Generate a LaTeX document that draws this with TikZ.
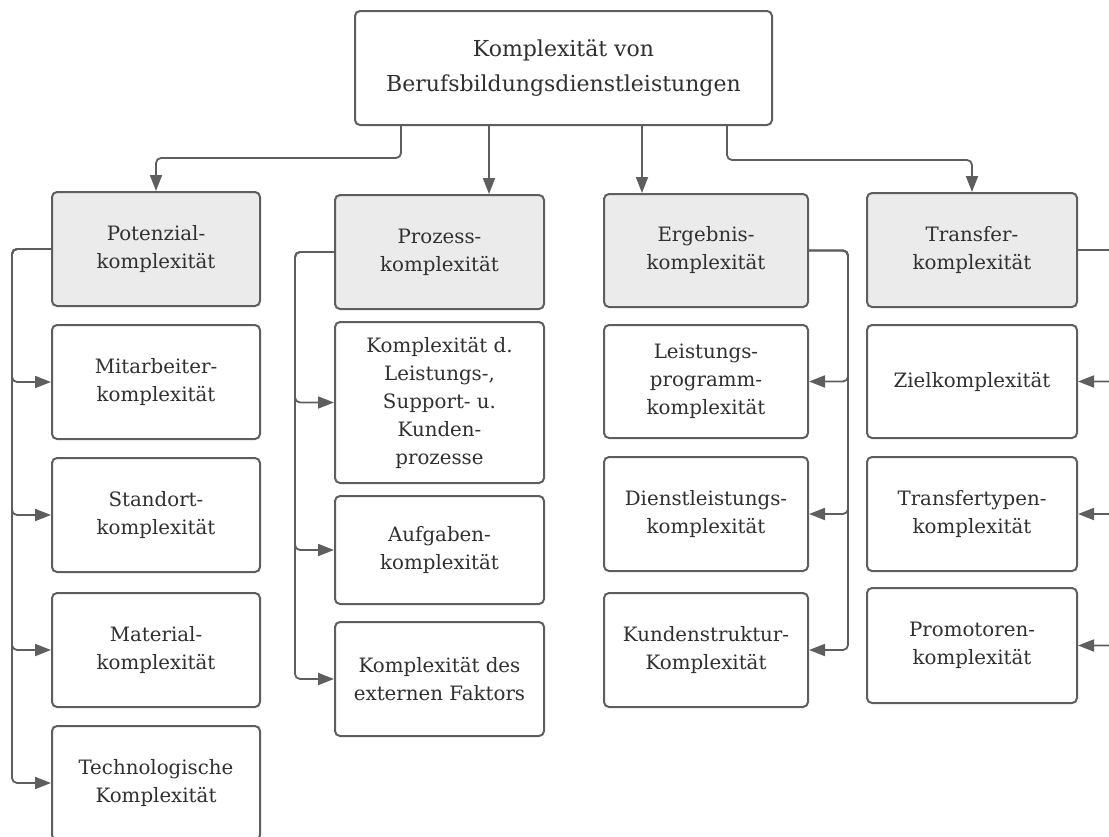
\documentclass[tikz,border=0pt]{standalone}
\usepackage{fontspec}
\setmainfont{DejaVu Serif}
\usetikzlibrary{arrows.meta,calc}
\definecolor{linegray}{HTML}{5E5E5E}
\definecolor{headfill}{HTML}{EBEBEB}
\definecolor{txt}{HTML}{303030}
\begin{document}
\begin{tikzpicture}[x=1pt,y=-1pt,
  box/.style={draw=linegray, line width=2pt, rounded corners=5pt, fill=white,
    align=center, text=txt, inner sep=0pt, font=\fontsize{19.8}{28}\selectfont},
  head/.style={box, fill=headfill},
  conn/.style={draw=linegray, line width=1.8pt, rounded corners=5pt,
    -{Triangle[length=16pt,width=12pt]}}]
\useasboundingbox (0,0) rectangle (1109,836);
\clip (0,0) rectangle (1109,836);

% top
\node[box, minimum width=417pt, minimum height=114pt, font=\fontsize{22}{35}\selectfont] (top) at (563.5,68)
  {Komplexität von\\Berufsbildungsdienstleistungen};

% column 1
\node[head, minimum width=208pt, minimum height=114pt] (pot) at (156,249) {Potenzial-\\komplexität};
\node[box, minimum width=208pt, minimum height=114pt] (mit) at (156,382) {Mitarbeiter-\\komplexität};
\node[box, minimum width=208pt, minimum height=114pt] (sta) at (156,515) {Standort-\\komplexität};
\node[box, minimum width=208pt, minimum height=114pt] (mat) at (156,650) {Material-\\komplexität};
\node[box, minimum width=208pt, minimum height=114pt] (tec) at (156,783) {Technologische\\Komplexität};

% column 2
\node[head, minimum width=209pt, minimum height=114pt] (pro) at (439.5,252) {Prozess-\\komplexität};
\node[box, minimum width=209pt, minimum height=161pt] (lei) at (439.5,402.5) {Komplexität d.\\Leistungs-,\\Support- u.\\Kunden-\\prozesse};
\node[box, minimum width=209pt, minimum height=108pt] (auf) at (439.5,550) {Aufgaben-\\komplexität};
\node[box, minimum width=209pt, minimum height=114pt] (ext) at (439.5,679) {Komplexität des\\externen Faktors};

% column 3
\node[head, minimum width=204pt, minimum height=113pt] (erg) at (706,250.5) {Ergebnis-\\komplexität};
\node[box, minimum width=204pt, minimum height=113pt] (lp) at (706,381.5) {Leistungs-\\programm-\\komplexität};
\node[box, minimum width=204pt, minimum height=114pt] (dl) at (706,514) {Dienstleistungs-\\komplexität};
\node[box, minimum width=204pt, minimum height=114pt] (ks) at (706,650) {Kundenstruktur-\\Komplexität};

% column 4
\node[head, minimum width=210pt, minimum height=114pt] (tra) at (972,250) {Transfer-\\komplexität};
\node[box, minimum width=210pt, minimum height=113pt] (zie) at (972,381.5) {Zielkomplexität};
\node[box, minimum width=210pt, minimum height=114pt] (tt) at (972,514) {Transfertypen-\\komplexität};
\node[box, minimum width=210pt, minimum height=115pt] (prm) at (972,645.5) {Promotoren-\\komplexität};

% top connectors
\draw[conn] ([xshift=-162.5pt]top.south) -- ++(0,32) -| (pot.north);
\draw[conn] ([xshift=-74.5pt]top.south) -- ([xshift=-74.5pt]top.south |- pro.north);
\draw[conn] ([xshift=78.5pt]top.south) -- ([xshift=78.5pt]top.south |- erg.north);
\draw[conn] ([xshift=163.5pt]top.south) -- ++(0,34) -| (tra.north);

% column connectors
\foreach \c in {mit,sta,mat,tec}
  \draw[conn] (pot.west) -- ++(-39,0) |- (\c.west);
\foreach \c in {lei,auf,ext}
  \draw[conn] (pro.west) -- ++(-39,0) |- (\c.west);
\foreach \c in {lp,dl,ks}
  \draw[conn] (erg.east) -- ++(39,0) |- (\c.east);
\foreach \c in {zie,tt,prm}
  \draw[conn] (tra.east) -- ++(39,0) |- (\c.east);
\end{tikzpicture}
\end{document}
